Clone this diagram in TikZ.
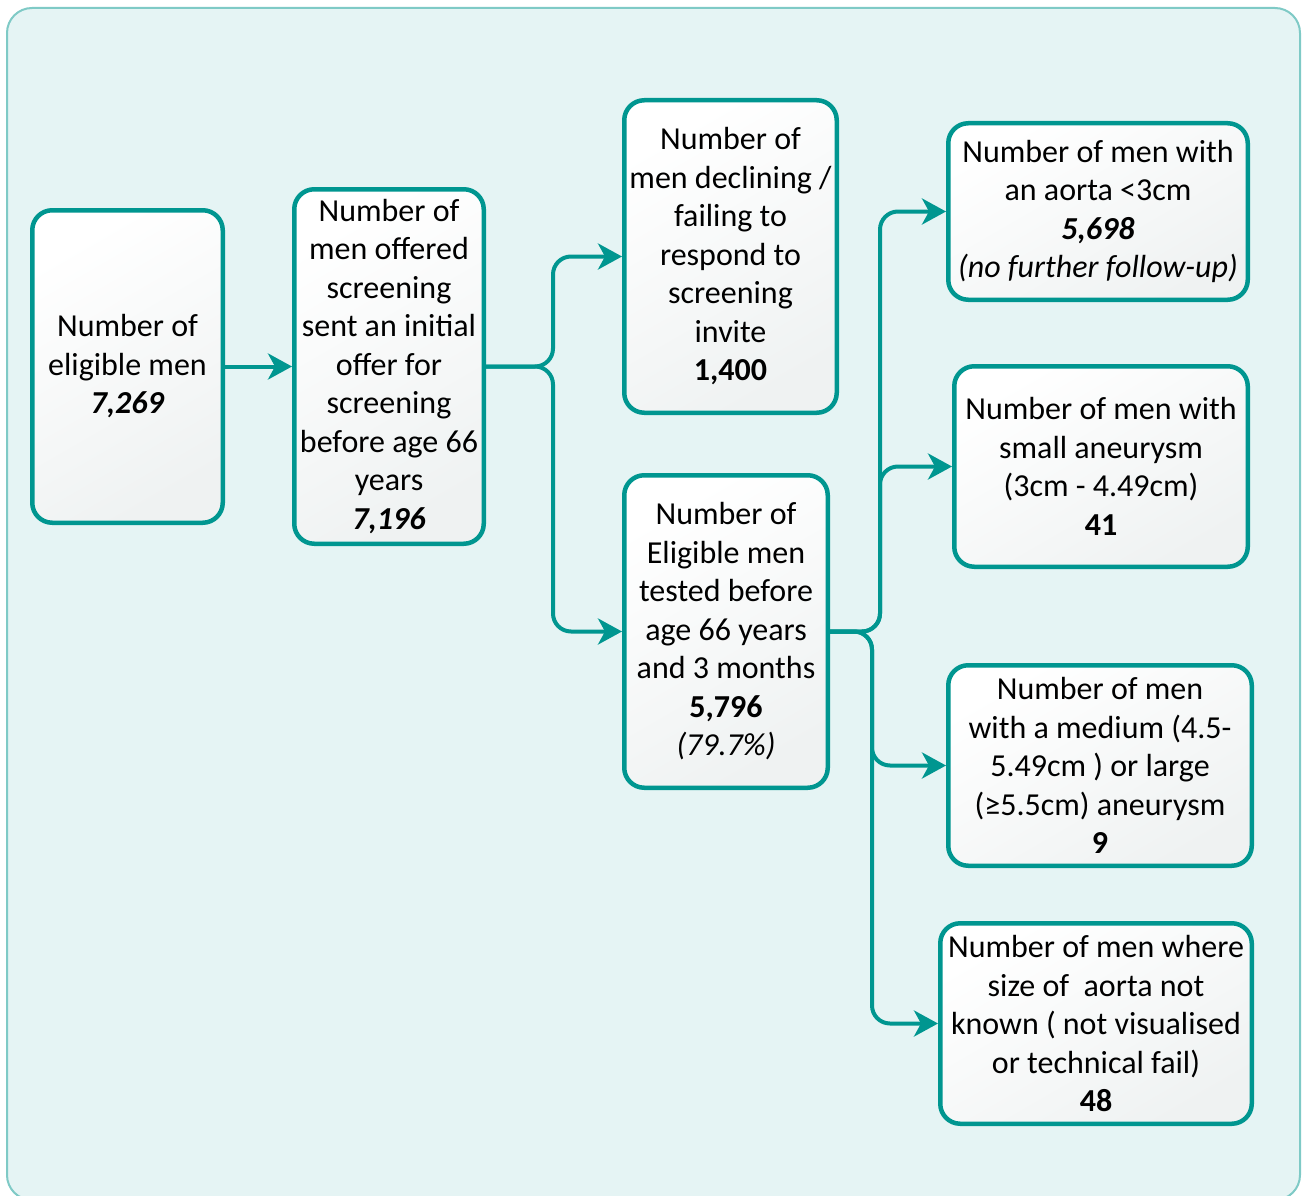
\documentclass[tikz,border=0pt]{standalone}
\usepackage{fontspec}
\setmainfont{Carlito}
\usetikzlibrary{arrows.meta}
\definecolor{teal1}{HTML}{009690}
\definecolor{panel}{HTML}{E5F4F4}
\definecolor{panelrim}{HTML}{7FCAC6}
\definecolor{boxlow}{HTML}{EFF2F2}
\begin{document}
\begin{tikzpicture}[x=1pt,y=-1pt,
  stage/.style={draw=teal1, line width=4.5pt, rounded corners=20pt,
    top color=white, bottom color=boxlow, shading angle=30,
    inner sep=0pt, align=center,
    font=\fontsize{32}{38.5}\selectfont},
  link/.style={draw=teal1, line width=4pt, rounded corners=18pt,
    -{Stealth[length=24pt,width=26pt,inset=7pt]}}]
\useasboundingbox (0,0) rectangle (1306,1196);
% panel behind the flow chart
\fill[panel, draw=panelrim, line width=2pt, rounded corners=25pt] (7,8) rectangle (1300,1200);

% stages
\node[stage, minimum width=190.5pt, minimum height=312.5pt] (A) at (127.5,366.5)
  {Number of\\eligible men\\\textbf{\textit{7,269}}};
\node[stage, minimum width=189.5pt, minimum height=354.5pt] (B) at (389,366.5)
  {Number of\\men offered\\screening\\sent an initial\\offer for\\screening\\before age 66\\years\\\textbf{\textit{7,196}}};
\node[stage, minimum width=212.5pt, minimum height=312.5pt] (C) at (730.5,256.5)
  {Number of\\men declining /\\failing to\\respond to\\screening\\invite\\\textbf{1,400}};
\node[stage, minimum width=203.5pt, minimum height=312.5pt] (D) at (726,631.5)
  {Number of\\Eligible men\\tested before\\age 66 years\\and 3 months\\\textbf{5,796}\\\textit{(79.7\%)}};
\node[stage, minimum width=299.5pt, minimum height=176.5pt] (E) at (1098,211.5)
  {Number of men with\\an aorta <3cm\\\textbf{\textit{5,698}}\\\textit{(no further follow-up)}};
\node[stage, minimum width=293.5pt, minimum height=200.5pt] (F) at (1101,466.5)
  {Number of men with\\small aneurysm\\(3cm - 4.49cm)\\\textbf{41}};
\node[stage, minimum width=303.5pt, minimum height=200.5pt] (G) at (1100,765.5)
  {Number of men\\with a medium (4.5-\\5.49cm ) or large\\(≥5.5cm) aneurysm\\\textbf{9}};
\node[stage, minimum width=311.5pt, minimum height=200.5pt] (H) at (1096,1023.5)
  {Number of men where\\size of~ aorta not\\known ( not visualised\\or technical fail)\\\textbf{48}};

% branch points
\coordinate (split1) at (553,366.5);
\coordinate (upx) at (880,631.5);
\coordinate (downx) at (872,631.5);

% connectors
\draw[link] (A) -- (B);
\draw[link] (B.east) -| (C.west -| split1) -- (C.west);
\draw[link] (B.east) -| (D.west -| split1) -- (D.west);
\draw[link] (D.east) -| (E.west -| upx) -- (E.west);
\draw[link] (D.east) -| (F.west -| upx) -- (F.west);
\draw[link] (D.east) -| (G.west -| downx) -- (G.west);
\draw[link] (D.east) -| (H.west -| downx) -- (H.west);
\end{tikzpicture}
\end{document}
